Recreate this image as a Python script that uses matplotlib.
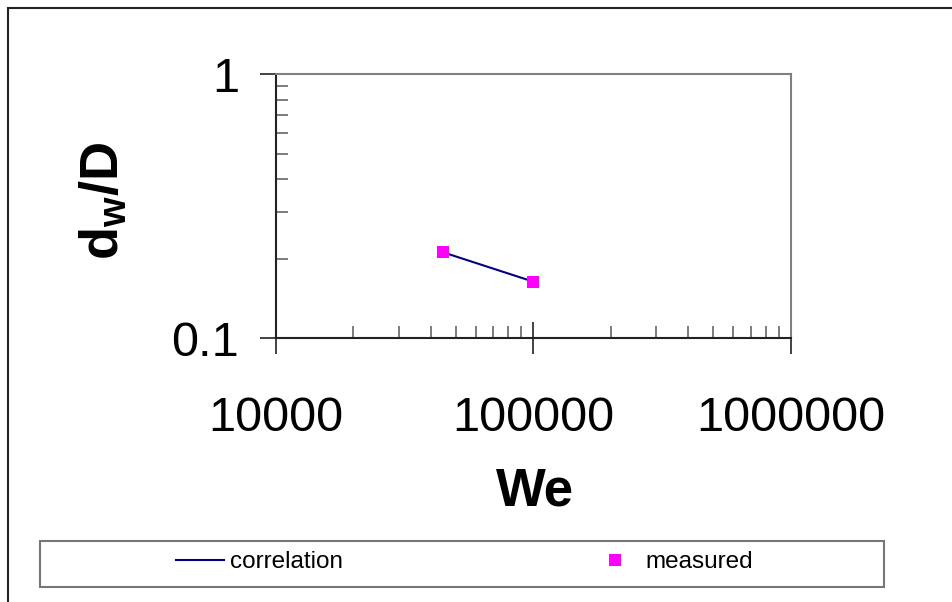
import matplotlib
matplotlib.use("Agg")
from matplotlib import pyplot as plt
from matplotlib.patches import Rectangle
from matplotlib.ticker import LogLocator, NullFormatter, FixedLocator, FixedFormatter

plt.rcParams['font.family'] = ['Liberation Sans', 'DejaVu Sans']
plt.rcParams['mathtext.fontset'] = 'custom'
plt.rcParams['mathtext.bf'] = 'Liberation Sans:bold'
plt.rcParams['mathtext.rm'] = 'Liberation Sans'

# data
we_corr = [44500, 100000]
dw_corr = [0.212, 0.164]
we_meas = [44500, 100000]
dw_meas = [0.212, 0.164]

x_ticks = [1e4, 1e5, 1e6]
x_labels = ["10000", "100000", "1000000"]
y_ticks = [0.1, 1]
y_labels = ["0.1", "1"]

W, H = 952, 602
fig = plt.figure(figsize=(W / 100, H / 100), dpi=100)
ax = fig.add_axes([275.7 / W, 1 - 338.3 / H, (790.5 - 275.7) / W, (338.3 - 74.3) / H])

ax.plot(we_corr, dw_corr, color='#000080', lw=1.5, label='correlation')
ax.plot(we_meas, dw_meas, ls='none', marker='s', ms=8.5, color='#ff00ff',
        markeredgewidth=0, label='measured')

ax.set_xscale('log')
ax.set_yscale('log')
ax.set_xlim(1e4, 1e6)
ax.set_ylim(0.1, 1)

ax.xaxis.set_major_locator(FixedLocator(x_ticks))
ax.xaxis.set_major_formatter(FixedFormatter(x_labels))
ax.yaxis.set_major_locator(FixedLocator(y_ticks))
ax.yaxis.set_major_formatter(FixedFormatter(y_labels))
ax.xaxis.set_minor_locator(LogLocator(base=10, subs=range(2, 10)))
ax.yaxis.set_minor_locator(LogLocator(base=10, subs=range(2, 10)))
ax.xaxis.set_minor_formatter(NullFormatter())
ax.yaxis.set_minor_formatter(NullFormatter())

ax.tick_params(which='major', direction='inout', length=23, width=1.2, color='#222222',
               labelsize=35)
ax.tick_params(which='minor', direction='in', length=8.5, width=1.2, color='#666666')
ax.tick_params(axis='x', which='major', pad=30)
ax.tick_params(axis='y', which='major', pad=15)

for side in ['top', 'right']:
    ax.spines[side].set_color('#808080')
    ax.spines[side].set_linewidth(1.5)
for side in ['left', 'bottom']:
    ax.spines[side].set_color('#222222')
    ax.spines[side].set_linewidth(1.5)

fig.text(535 / W, 1 - 492 / H, 'We', fontsize=38, fontweight='bold', ha='center', va='center')
fig.text(104 / W, 1 - 201 / H, r'$\mathbf{d_w/D}$', fontsize=39, rotation=90,
         ha='center', va='center')

# outer chart frame (cut off at right and bottom)
fig.add_artist(Rectangle((7.5 / W, -0.1), 1.2, 1.1 - 7.5 / H, transform=fig.transFigure,
                         fill=False, edgecolor='#222222', lw=1.5))

# legend box
fig.add_artist(Rectangle((40 / W, 1 - 587 / H), 844 / W, 46 / H, transform=fig.transFigure,
                         fill=False, edgecolor='#777777', lw=1.5))
fig.legend(loc='center', bbox_to_anchor=(464.5 / W, 1 - 562 / H), ncol=2, frameon=False,
           fontsize=17.5, handlelength=2.0, handletextpad=0.25, columnspacing=10.2,
           numpoints=1)

fig.savefig('out.png', dpi=100, facecolor='white')
